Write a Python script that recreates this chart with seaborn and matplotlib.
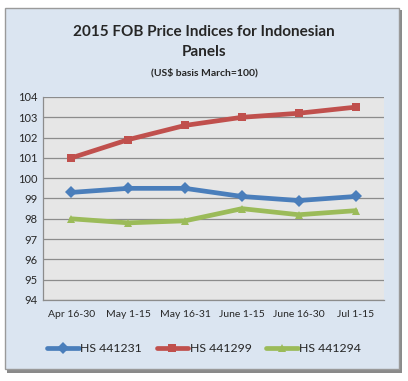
import pandas as pd
import matplotlib.pyplot as plt
import seaborn as sns
from matplotlib.patches import Rectangle

periods = ['Apr 16-30', 'May 1-15', 'May 16-31', 'June 1-15', 'June 16-30', 'Jul 1-15']
hs_441231 = [99.3, 99.5, 99.5, 99.1, 98.9, 99.1]
hs_441299 = [101.0, 101.9, 102.6, 103.0, 103.2, 103.5]
hs_441294 = [98.0, 97.8, 97.9, 98.5, 98.2, 98.4]
series_names = ['HS 441231', 'HS 441299', 'HS 441294']

df = pd.DataFrame({
    'Period': periods * 3,
    'Index': hs_441231 + hs_441299 + hs_441294,
    'Series': [s for s in series_names for _ in periods],
})

sns.set_style('white')
plt.rcParams['font.family'] = ['Lato', 'DejaVu Sans']

fig = plt.figure(figsize=(4.08, 3.81), dpi=100)
fig.patch.set_facecolor('white')

# outer chart frame with a little shadow
fig.patches.append(Rectangle((7 / 408, 8 / 381), 395 / 408, 363 / 381, transform=fig.transFigure,
                             facecolor='#8a8a8a', edgecolor='none', zorder=0))
fig.patches.append(Rectangle((5 / 408, 12 / 381), 394 / 408, 361 / 381, transform=fig.transFigure,
                             facecolor='#dbe5f1', edgecolor='#9a9a9a', linewidth=1, zorder=0.5))

ax = fig.add_axes([43 / 408, 81 / 381, 341 / 408, 203 / 381])
ax.set_zorder(2)
ax.set_facecolor('#e6e6e6')

palette = {'HS 441231': '#4a7ebb', 'HS 441299': '#c0504d', 'HS 441294': '#9bbb59'}
markers = {'HS 441231': 'D', 'HS 441299': 's', 'HS 441294': '^'}
sns.lineplot(data=df, x='Period', y='Index', hue='Series', style='Series', palette=palette,
             markers=markers, dashes=False, linewidth=3.4, markersize=6, markeredgewidth=0,
             sort=False, ax=ax)

ax.set_xlim(-0.5, 5.5)
ax.set_ylim(94, 104)
ax.set_yticks(range(94, 105))
ax.yaxis.grid(True, color='#8c8c8c', linewidth=0.9)
ax.set_axisbelow(True)
ax.set_xlabel('')
ax.set_ylabel('')
ax.tick_params(axis='x', labelsize=7.5, length=0, pad=7)
ax.tick_params(axis='y', labelsize=8, length=0, pad=4)
for side in ['top', 'right']:
    ax.spines[side].set_visible(False)
for side in ['left', 'bottom']:
    ax.spines[side].set_color('#8c8c8c')
    ax.spines[side].set_linewidth(0.9)

handles, labels = ax.get_legend_handles_labels()
ax.get_legend().remove()
leg = fig.legend(handles, labels, loc='center', bbox_to_anchor=(0.5, 32 / 381), ncol=3, frameon=False,
                 fontsize=8.8, handlelength=2.6, handletextpad=0.1, columnspacing=1.2)
leg.set_zorder(3)

fig.text(0.5, 349 / 381, '2015 FOB Price Indices for Indonesian', ha='center', va='center',
         fontsize=11, fontweight='bold', zorder=3)
fig.text(0.5, 329 / 381, 'Panels', ha='center', va='center', fontsize=11, fontweight='bold', zorder=3)
fig.text(0.5, 308 / 381, '(US$ basis March=100)', ha='center', va='center', fontsize=7.5,
         fontweight='bold', zorder=3)

fig.savefig('out.png', dpi=100)
